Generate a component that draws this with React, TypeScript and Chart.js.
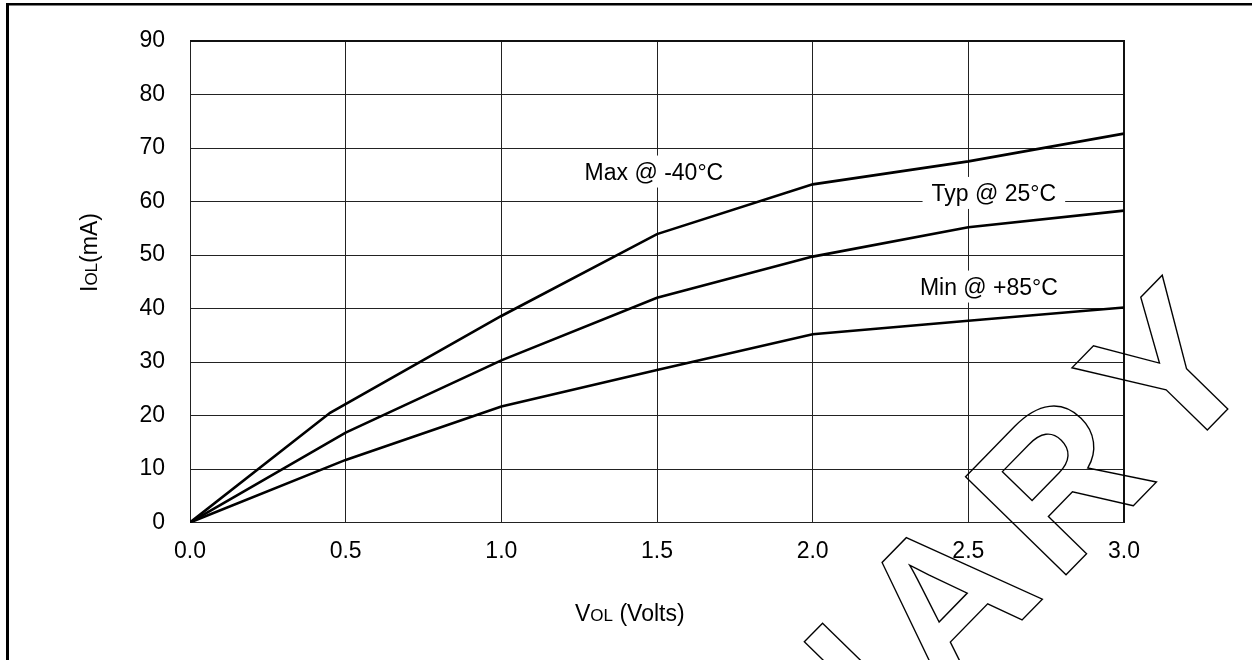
import React, { useEffect, useRef } from "react";
import { Chart, registerables } from "chart.js";

Chart.register(...registerables);

// ---- data ----
const maxVolts = [0, 0.45, 1.0, 1.5, 2.0, 2.5, 3.0];
const maxCurrent = [0, 20.5, 38.6, 53.9, 63.2, 67.5, 72.7];
const typVolts = [0, 0.5, 1.0, 1.5, 2.0, 2.5, 3.0];
const typCurrent = [0, 16.8, 30.3, 42.0, 49.7, 55.2, 58.3];
const minVolts = [0, 0.5, 1.0, 1.5, 2.0, 2.5, 3.0];
const minCurrent = [0, 11.7, 21.7, 28.5, 35.2, 37.7, 40.2];
const seriesNames = ["Max @ -40°C", "Typ @ 25°C", "Min @ +85°C"];
// label anchor (centre of text) in data units
const labelVolts = [1.49, 2.582, 2.566];
const labelCurrent = [65.6, 61.6, 44.1];
const xRange = [0, 3, 0.5];
const yRange = [0, 90, 10];
const watermarkText = "PRELIMINARY";

const FONT = "'Liberation Sans', Arial, Helvetica, sans-serif";

function drawRuns(ctx: CanvasRenderingContext2D, runs: [string, number][]) {
  let x = 0;
  for (const [t, size] of runs) {
    ctx.font = `${size}px ${FONT}`;
    ctx.fillText(t, x, 0);
    x += ctx.measureText(t).width;
  }
}

const decor = {
  id: "decor",
  beforeDraw(chart: any) {
    const ctx = chart.ctx as CanvasRenderingContext2D;
    ctx.save();
    ctx.fillStyle = "#fff";
    ctx.fillRect(0, 0, chart.width, chart.height);
    ctx.fillStyle = "#000";
    ctx.fillRect(6, 3, chart.width, 2.5);
    ctx.fillRect(6, 3, 3, chart.height);
    ctx.restore();
  },
  beforeDatasetsDraw(chart: any) {
    const ctx = chart.ctx as CanvasRenderingContext2D;
    const xs = chart.scales.x;
    const ys = chart.scales.y;
    const a = chart.chartArea;
    ctx.save();
    // heavier plot frame on top / right
    ctx.strokeStyle = "#111";
    ctx.lineWidth = 2;
    ctx.beginPath();
    ctx.moveTo(a.left, a.top);
    ctx.lineTo(a.right, a.top);
    ctx.lineTo(a.right, a.bottom);
    ctx.stroke();
    ctx.font = `23px ${FONT}`;
    ctx.textAlign = "center";
    ctx.textBaseline = "alphabetic";
    seriesNames.forEach((name, i) => {
      const cx = xs.getPixelForValue(labelVolts[i]);
      const cy = ys.getPixelForValue(labelCurrent[i]);
      const w = ctx.measureText(name).width;
      ctx.fillStyle = "#fff";
      ctx.fillRect(cx - w / 2 - 9, cy - 16, w + 18, 32);
      ctx.fillStyle = "#000";
      ctx.fillText(name, cx, cy + 8.2);
    });
    ctx.restore();
  },
  afterDraw(chart: any) {
    const ctx = chart.ctx as CanvasRenderingContext2D;
    ctx.save();
    ctx.fillStyle = "#000";
    ctx.textAlign = "left";
    ctx.textBaseline = "alphabetic";
    // y title
    ctx.save();
    ctx.translate(96.5, 292);
    ctx.rotate(-Math.PI / 2);
    drawRuns(ctx, [["I", 23], ["OL", 17], ["(mA)", 23]]);
    ctx.restore();
    // x title
    ctx.save();
    ctx.translate(575, 621);
    drawRuns(ctx, [["V", 23], ["OL", 17], [" (Volts)", 23]]);
    ctx.restore();
    // watermark (outlined, letter by letter from the right end)
    ctx.save();
    ctx.translate(1265, 371);
    ctx.rotate(-Math.PI / 4 - 0.012);
    ctx.font = `bold 204px ${FONT}`;
    (ctx as any).fontKerning = "none";
    ctx.textAlign = "left";
    ctx.strokeStyle = "#000";
    ctx.lineWidth = 1.4;
    let x = 0;
    for (let i = watermarkText.length - 1; i >= 0; i--) {
      const ch = watermarkText[i];
      x -= ctx.measureText(ch).width;
      ctx.strokeText(ch, x, 0);
      x -= 15;
    }
    ctx.restore();
    ctx.restore();
  },
};

export default function App() {
  const ref = useRef<HTMLCanvasElement | null>(null);
  useEffect(() => {
    if (!ref.current) return;
    const mk = (xv: number[], yv: number[]) => xv.map((x, i) => ({ x, y: yv[i] }));
    const lineStyle = {
      borderColor: "#000",
      borderWidth: 2.6,
      pointRadius: 0,
      tension: 0,
      fill: false,
    };
    const chart = new Chart(ref.current, {
      type: "line",
      data: {
        datasets: [
          { label: seriesNames[0], data: mk(maxVolts, maxCurrent), ...lineStyle },
          { label: seriesNames[1], data: mk(typVolts, typCurrent), ...lineStyle },
          { label: seriesNames[2], data: mk(minVolts, minCurrent), ...lineStyle },
        ],
      },
      options: {
        animation: false,
        responsive: false,
        maintainAspectRatio: false,
        layout: { padding: { left: 0, top: 41, right: 128, bottom: 0 } },
        plugins: { legend: { display: false }, tooltip: { enabled: false } },
        scales: {
          x: {
            type: "linear",
            min: xRange[0],
            max: xRange[1],
            ticks: {
              stepSize: xRange[2],
              padding: 15,
              color: "#000",
              font: { family: FONT, size: 23 },
              callback: (v: any) => Number(v).toFixed(1),
            },
            grid: { color: "#222", lineWidth: 1, drawTicks: false },
            border: { color: "#222", width: 1 },
            afterFit: (s: any) => {
              s.height = 137.5;
            },
          },
          y: {
            type: "linear",
            min: yRange[0],
            max: yRange[1],
            ticks: {
              stepSize: yRange[2],
              padding: 25,
              color: "#000",
              font: { family: FONT, size: 23 },
            },
            grid: { color: "#222", lineWidth: 1, drawTicks: false },
            border: { color: "#222", width: 1 },
            afterFit: (s: any) => {
              s.width = 190;
            },
          },
        },
      } as any,
      plugins: [decor],
    });
    return () => chart.destroy();
  }, []);
  return (
    <div style={{ position: "fixed", left: 0, top: 0, width: 1252, height: 660, background: "#fff" }}>
      <canvas ref={ref} width={1252} height={660} style={{ display: "block", width: 1252, height: 660 }} />
    </div>
  );
}
